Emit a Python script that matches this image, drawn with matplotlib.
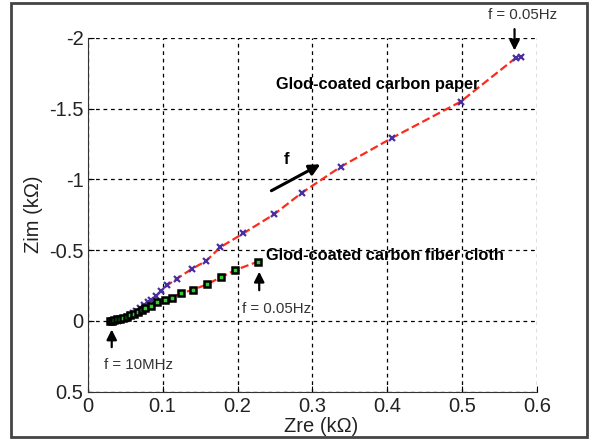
import matplotlib
matplotlib.use('Agg')
import matplotlib.pyplot as plt
import matplotlib.patches as patches

plt.rcParams['font.family'] = ['Liberation Sans', 'DejaVu Sans']

# Gold-coated carbon paper (Zre, Zim in kOhm)
paper_zre = [0.040, 0.042, 0.045, 0.048, 0.052, 0.056, 0.060, 0.065, 0.070, 0.075,
             0.080, 0.085, 0.091, 0.098, 0.106, 0.119, 0.139, 0.158, 0.177, 0.208,
             0.249, 0.286, 0.338, 0.407, 0.498, 0.572, 0.578]
paper_zim = [0.000, -0.005, -0.010, -0.020, -0.030, -0.040, -0.055, -0.070, -0.090, -0.110,
             -0.130, -0.150, -0.176, -0.211, -0.251, -0.298, -0.367, -0.423, -0.520, -0.619,
             -0.753, -0.905, -1.089, -1.294, -1.548, -1.859, -1.862]

# Gold-coated carbon fiber cloth
cloth_zre = [0.030, 0.032, 0.035, 0.039, 0.043, 0.047, 0.052, 0.057, 0.062, 0.067,
             0.072, 0.077, 0.084, 0.093, 0.103, 0.112, 0.124, 0.141, 0.159, 0.178,
             0.197, 0.227]
cloth_zim = [0.000, -0.002, -0.005, -0.010, -0.015, -0.022, -0.030, -0.040, -0.050, -0.062,
             -0.075, -0.089, -0.105, -0.131, -0.148, -0.164, -0.195, -0.220, -0.258, -0.308,
             -0.359, -0.418]

xticks = [0, 0.1, 0.2, 0.3, 0.4, 0.5, 0.6]
yticks = [-2, -1.5, -1, -0.5, 0, 0.5]

fig = plt.figure(figsize=(5.97, 4.40), dpi=100)
ax = fig.add_axes([0.147, 0.1098, 0.7525, 0.8045])

ax.plot(paper_zre, paper_zim, '--', color='#ff2a1a', lw=1.6, zorder=2)
ax.plot(paper_zre, paper_zim, 'x', color='#4a2fa0', ms=4.5, mew=1.6, zorder=3)
ax.plot(cloth_zre, cloth_zim, '--', color='#ff2a1a', lw=1.6, zorder=2)
ax.plot(cloth_zre, cloth_zim, 's', mfc='#33cc33', mec='black', ms=5, mew=1.8, zorder=3)

ax.set_xlim(0, 0.6)
ax.set_ylim(0.5, -2)
ax.set_xticks(xticks)
ax.set_xticklabels(['0', '0.1', '0.2', '0.3', '0.4', '0.5', '0.6'])
ax.set_yticks(yticks)
ax.set_yticklabels(['-2', '-1.5', '-1', '-0.5', '0', '0.5'])
ax.tick_params(direction='in', labelsize=14.5, labelcolor='#222222', length=4)
ax.tick_params(axis='x', pad=4)
ax.tick_params(axis='y', pad=3)
ax.grid(True, color='black', ls=(0, (3, 3)), lw=0.9)
for s in ['top', 'right']:
    ax.spines[s].set_visible(False)
for s in ['left', 'bottom']:
    ax.spines[s].set_color('#333333')

ax.set_xlabel('Zre (k\u03a9)', fontsize=14.5, color='#222222')
ax.xaxis.set_label_coords(0.52, -0.072)
ax.set_ylabel('Zim (k\u03a9)', fontsize=14.5, color='#222222')
ax.yaxis.set_label_coords(-0.10, 0.5)

ax.text(0.251, -1.672, 'Glod-coated carbon paper', fontsize=11.8, fontweight='bold', va='center')
ax.text(0.238, -0.46, 'Glod-coated carbon fiber cloth', fontsize=11.8, fontweight='bold', va='center')
ax.text(0.265, -1.14, 'f', fontsize=12, fontweight='bold', va='center', ha='center')

arrow = dict(arrowstyle='-|>', color='black', lw=1.6, mutation_scale=15)
ax.annotate('', xy=(0.570, -1.89), xytext=(0.570, -2.08), arrowprops=arrow, annotation_clip=False)
ax.text(0.535, -2.16, 'f = 0.05Hz', fontsize=10.8, color='#333333', va='center', clip_on=False)
ax.annotate('', xy=(0.229, -0.367), xytext=(0.229, -0.197), arrowprops=arrow)
ax.text(0.206, -0.084, 'f = 0.05Hz', fontsize=10.8, color='#333333', va='center')
ax.annotate('', xy=(0.032, 0.041), xytext=(0.032, 0.205), arrowprops=arrow)
ax.text(0.022, 0.311, 'f = 10MHz', fontsize=10.8, color='#333333', va='center')
ax.annotate('', xy=(0.314, -1.115), xytext=(0.242, -0.910),
            arrowprops=dict(arrowstyle='-|>', color='black', lw=2.2, mutation_scale=16))

fig.patches.append(patches.Rectangle((11 / 597, 3 / 440), 576 / 597, 434 / 440,
                                     transform=fig.transFigure, fill=False,
                                     edgecolor='#444444', lw=2))

fig.savefig('out.png', dpi=100)
